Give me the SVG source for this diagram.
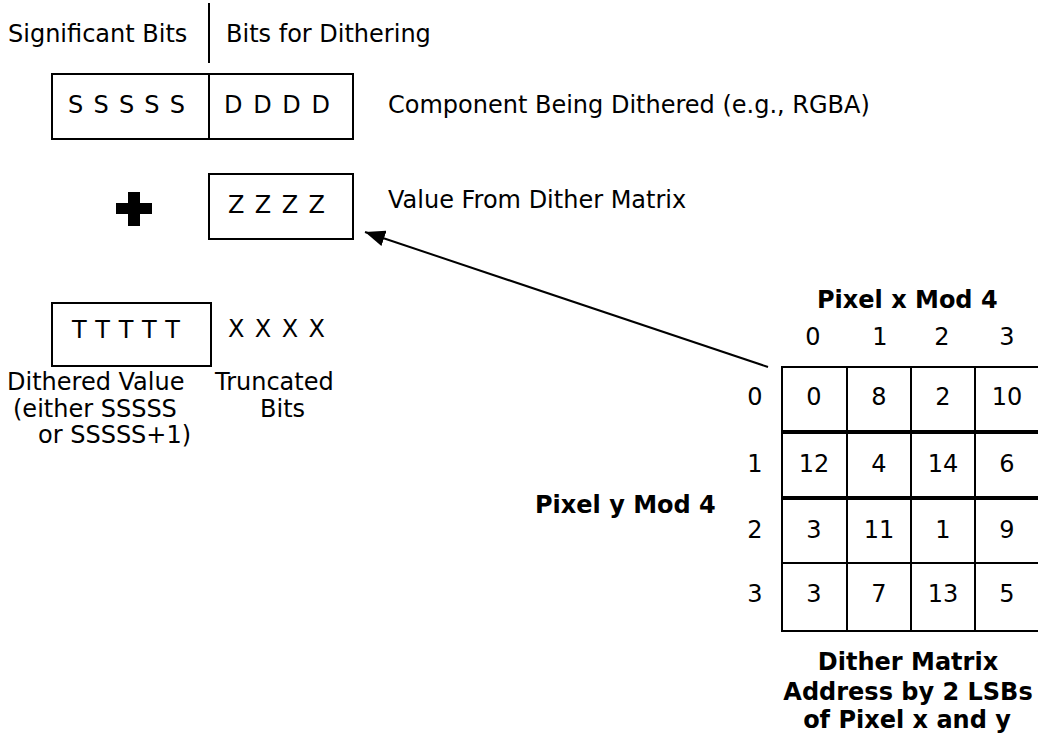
<svg xmlns="http://www.w3.org/2000/svg" width="1038" height="736" viewBox="0 0 1038 736">
<style>
text{font-family:"DejaVu Sans","Verdana",sans-serif;font-size:24px;fill:#000}
.b{font-weight:bold}
.m{text-anchor:middle}
.box{fill:none;stroke:#000;stroke-width:2}
.g{stroke:#000;stroke-width:2;fill:none}
.gt{stroke:#000;stroke-width:4;fill:none}
</style>
<defs>
<marker id="ah" viewBox="0 0 20 16" refX="20" refY="8" markerWidth="20" markerHeight="16" markerUnits="userSpaceOnUse" orient="auto">
<path d="M0,0 L20,8 L0,16 z" fill="#000"/>
</marker>
</defs>
<rect width="1038" height="736" fill="#fff"/>
<g id="header">
<text x="8" y="42">Significant Bits</text>
<line x1="209" y1="3" x2="209" y2="63" class="g"/>
<text x="226" y="42">Bits for Dithering</text>
</g>
<g id="component">
<rect x="52" y="74" width="301" height="65" class="box"/>
<line x1="209" y1="74" x2="209" y2="139" class="g"/>
<text x="68" y="113" textLength="117" lengthAdjust="spacing">S S S S S</text>
<text x="224" y="113" textLength="106" lengthAdjust="spacing">D D D D</text>
<text x="388" y="113">Component Being Dithered (e.g., RGBA)</text>
</g>
<g id="plus">
<rect x="116" y="203" width="36" height="11" fill="#000"/>
<rect x="128" y="192" width="12" height="34" fill="#000"/>
</g>
<g id="dither-value">
<rect x="209" y="174" width="144" height="65" class="box"/>
<text x="228" y="213" textLength="97" lengthAdjust="spacing">Z Z Z Z</text>
<text x="388" y="208">Value From Dither Matrix</text>
</g>
<g id="result">
<rect x="52" y="303" width="159" height="63" class="box"/>
<text x="72" y="338" textLength="108" lengthAdjust="spacing">T T T T T</text>
<text x="228" y="337" textLength="97" lengthAdjust="spacing">X X X X</text>
<text x="7" y="390">Dithered Value</text>
<text x="13" y="417">(either SSSSS</text>
<text x="38" y="443">or SSSSS+1)</text>
<text x="215" y="390">Truncated</text>
<text x="260" y="417">Bits</text>
</g>
<g id="connectors">
<line x1="768" y1="367" x2="365" y2="232" class="g" marker-end="url(#ah)"/>
</g>
<g id="matrix">
<text x="817" y="308" class="b">Pixel x Mod 4</text>
<text x="813" y="345" class="m">0</text>
<text x="880" y="345" class="m">1</text>
<text x="942" y="345" class="m">2</text>
<text x="1007" y="345" class="m">3</text>
<text x="755" y="405" class="m">0</text>
<text x="755" y="472" class="m">1</text>
<text x="755" y="538" class="m">2</text>
<text x="755" y="602" class="m">3</text>
<text x="535" y="513" class="b">Pixel y Mod 4</text>
<line x1="781" y1="367" x2="1040" y2="367" class="g"/>
<line x1="781" y1="432" x2="1040" y2="432" class="gt"/>
<line x1="781" y1="498" x2="1040" y2="498" class="gt"/>
<line x1="781" y1="563" x2="1040" y2="563" class="g"/>
<line x1="781" y1="631" x2="1040" y2="631" class="g"/>
<line x1="782" y1="366" x2="782" y2="632" class="g"/>
<line x1="847" y1="366" x2="847" y2="632" class="g"/>
<line x1="911" y1="366" x2="911" y2="632" class="g"/>
<line x1="975" y1="366" x2="975" y2="632" class="g"/>
<text x="814" y="405" class="m">0</text>
<text x="879" y="405" class="m">8</text>
<text x="943" y="405" class="m">2</text>
<text x="1007" y="405" class="m">10</text>
<text x="814" y="472" class="m">12</text>
<text x="879" y="472" class="m">4</text>
<text x="943" y="472" class="m">14</text>
<text x="1007" y="472" class="m">6</text>
<text x="814" y="538" class="m">3</text>
<text x="879" y="538" class="m">11</text>
<text x="943" y="538" class="m">1</text>
<text x="1007" y="538" class="m">9</text>
<text x="814" y="602" class="m">3</text>
<text x="879" y="602" class="m">7</text>
<text x="943" y="602" class="m">13</text>
<text x="1007" y="602" class="m">5</text>
<text x="908" y="670" class="b m">Dither Matrix</text>
<text x="908" y="700" class="b m">Address by 2 LSBs</text>
<text x="907" y="728" class="b m">of Pixel x and y</text>
</g>
</svg>
